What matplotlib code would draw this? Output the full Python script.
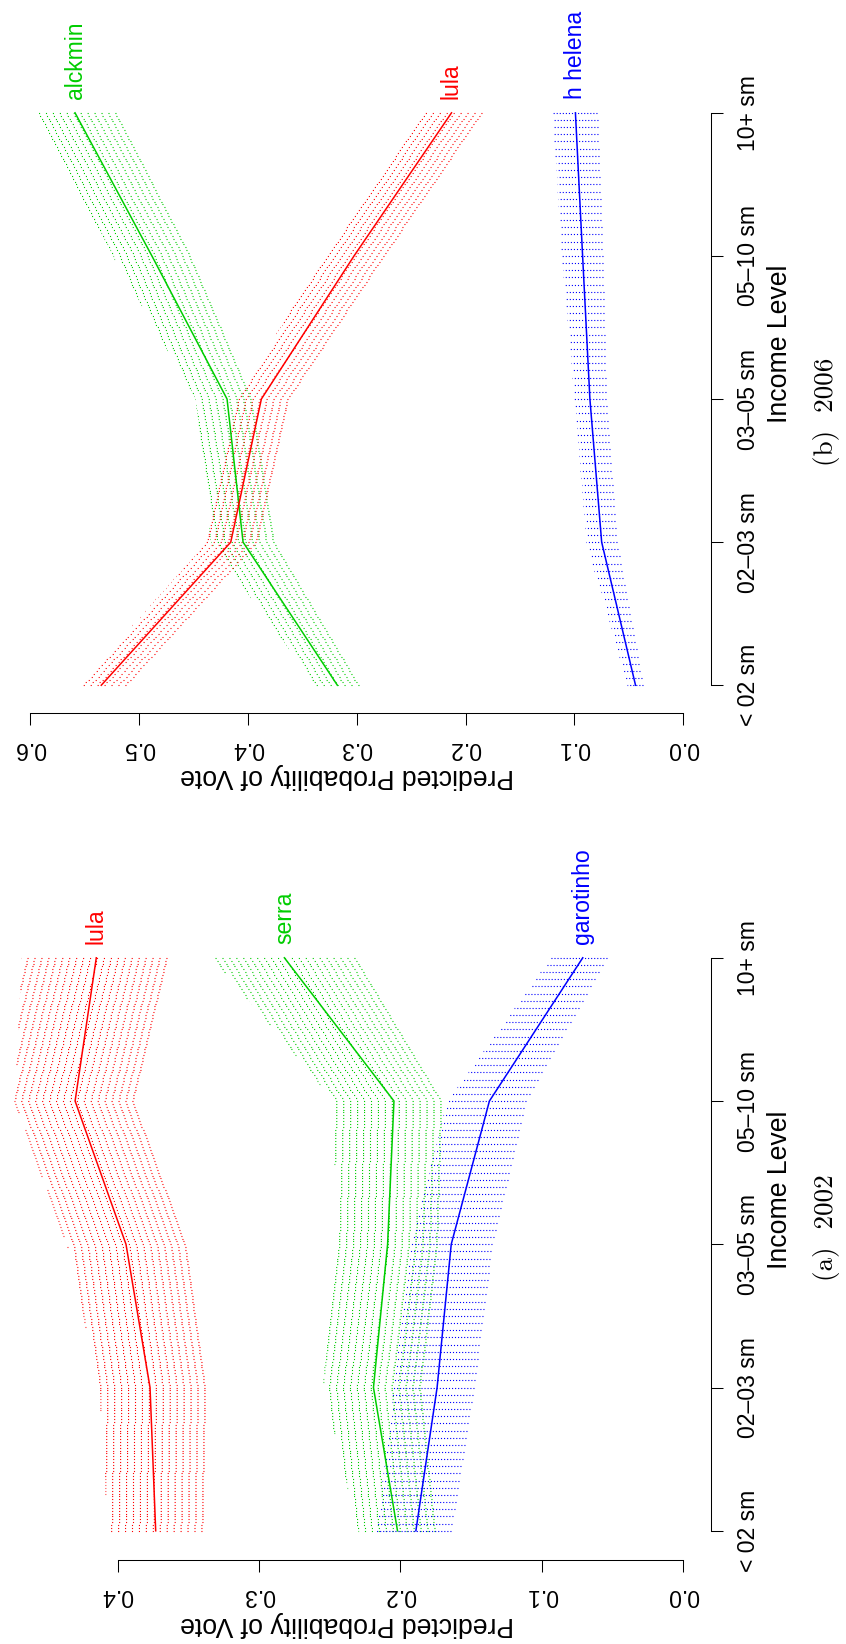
import numpy as np
import matplotlib.pyplot as plt

plt.rcParams['font.family'] = ['Liberation Sans', 'DejaVu Sans']
plt.rcParams['lines.scale_dashes'] = False

# --- data ---
income_pos = [1, 2, 3, 4, 5]
income_labels = ['< 02 sm', '02\u201303 sm', '03\u201305 sm', '05\u201310 sm', '10+ sm']

# 2002
lula_02 = [0.373, 0.377, 0.394, 0.430, 0.415]
lula_02_lo = [0.340, 0.338, 0.352, 0.389, 0.365]
lula_02_hi = [0.407, 0.413, 0.436, 0.473, 0.468]
serra_02 = [0.202, 0.219, 0.209, 0.2045, 0.282]
serra_02_lo = [0.1755, 0.186, 0.174, 0.171, 0.232]
serra_02_hi = [0.230, 0.255, 0.246, 0.247, 0.333]
garotinho_02 = [0.189, 0.174, 0.164, 0.137, 0.071]
garotinho_02_lo = [0.164, 0.148, 0.135, 0.111, 0.054]
garotinho_02_hi = [0.217, 0.205, 0.193, 0.167, 0.094]

# 2006
lula_06 = [0.5345, 0.4156, 0.3875, 0.3024, 0.2129]
lula_06_lo = [0.512, 0.392, 0.363, 0.275, 0.185]
lula_06_hi = [0.555, 0.438, 0.411, 0.330, 0.242]
alckmin_06 = [0.3177, 0.4043, 0.419, 0.488, 0.5586]
alckmin_06_lo = [0.298, 0.376, 0.397, 0.453, 0.521]
alckmin_06_hi = [0.338, 0.434, 0.448, 0.524, 0.594]
helena_06 = [0.0439, 0.075, 0.0858, 0.0925, 0.0991]
helena_06_lo = [0.037, 0.061, 0.071, 0.074, 0.079]
helena_06_hi = [0.052, 0.089, 0.100, 0.112, 0.120]

RED = '#FF0000'
GREEN = '#00CD00'
BLUE = '#0000FF'

W, H = 846, 1644
fig = plt.figure(figsize=(W / 100, H / 100), dpi=100)


def px_axes(left, right, top, bottom):
    return fig.add_axes([left / W, 1 - bottom / H, (right - left) / W, (bottom - top) / H])


def band(ax, lo, hi, color, step, period):
    # dotted segments across the band, drawn from lower to upper bound
    ys = np.arange(1, 5.0001, step)
    lo_i = np.interp(ys, income_pos, lo)
    hi_i = np.interp(ys, income_pos, hi)
    on = 0.8
    ax.hlines(ys, lo_i, hi_i, colors=color, linewidth=0.8,
              linestyles=[(0, (on, period - on))], zorder=1)


def candidate(ax, mid, lo, hi, color, name, step, period):
    band(ax, lo, hi, color, step, period)
    ax.plot(mid, income_pos, color=color, lw=1.1, zorder=3)
    ax.annotate(name, xy=(mid[-1], 5), xytext=(0, 10), textcoords='offset points',
                rotation=90, ha='center', va='bottom', color=color, fontsize=16.6,
                annotation_clip=False)


def style(ax, pmax):
    for s in ['top', 'left']:
        ax.spines[s].set_visible(False)
    ax.spines['bottom'].set_bounds(0, pmax)
    ax.spines['right'].set_bounds(1, 5)
    for s in ['bottom', 'right']:
        ax.spines[s].set_linewidth(0.75)
    ticks = np.round(np.arange(0, pmax + 0.001, 0.1), 1)
    ax.set_xticks(ticks, [f'{t:.1f}' for t in ticks], rotation=180)
    ax.yaxis.tick_right()
    ax.set_yticks(income_pos, income_labels, rotation=90, va='center')
    ax.tick_params(axis='x', length=8.5, width=0.75, pad=9, labelsize=16.6)
    ax.tick_params(axis='y', length=8.5, width=0.75, pad=10, labelsize=16.6)


# panel (b) 2006, top half
ax_b = px_axes(0, 711, 40, 713)
ax_b.set_xlim(0.6275, -0.0254)
ax_b.set_ylim(0.806, 5.509)
candidate(ax_b, alckmin_06, alckmin_06_lo, alckmin_06_hi, GREEN, 'alckmin', 0.02, 5.0)
candidate(ax_b, lula_06, lula_06_lo, lula_06_hi, RED, 'lula', 0.02, 5.0)
candidate(ax_b, helena_06, helena_06_lo, helena_06_hi, BLUE, 'h helena', 0.05, 2.2)
style(ax_b, 0.6)

# panel (a) 2002, bottom half
ax_a = px_axes(0, 711, 880, 1560)
ax_a.set_xlim(0.4831, -0.0197)
ax_a.set_ylim(0.796, 5.543)
candidate(ax_a, lula_02, lula_02_lo, lula_02_hi, RED, 'lula', 0.02, 5.0)
candidate(ax_a, serra_02, serra_02_lo, serra_02_hi, GREEN, 'serra', 0.02, 5.0)
candidate(ax_a, garotinho_02, garotinho_02_lo, garotinho_02_hi, BLUE, 'garotinho', 0.05, 2.2)
style(ax_a, 0.4)

# axis titles and captions
for ylab, yinc, ycap, cap in [(776, 344, 411.5, '(b)  2006'), (1624, 1190, 1228, '(a)  2002')]:
    fig.text(347 / W, 1 - ylab / H, 'Predicted Probability of Vote', rotation=180,
             ha='center', va='center', fontsize=19.2)
    fig.text(780 / W, 1 - yinc / H, 'Income Level', rotation=90,
             ha='center', va='center', fontsize=19.2)
    fig.text(826 / W, 1 - ycap / H, cap, rotation=90, ha='center', va='center',
             fontsize=19.5, family='cmr10')

fig.savefig('out.png', dpi=100)
